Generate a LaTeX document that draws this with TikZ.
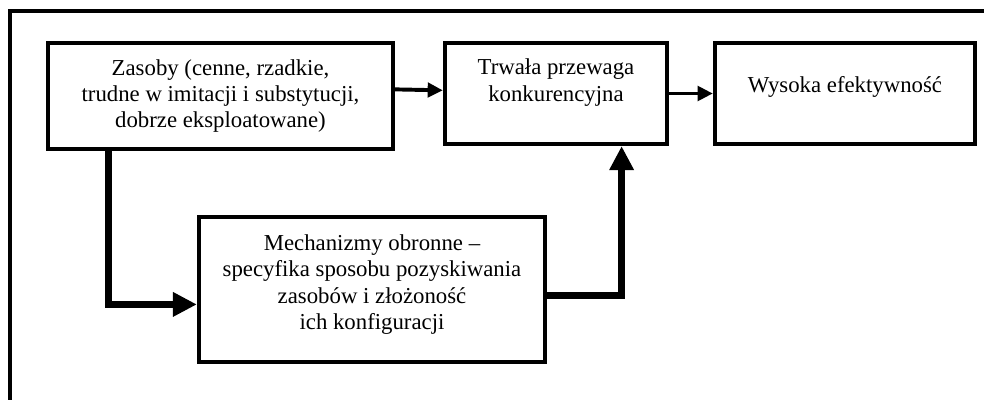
\documentclass[tikz,border=0pt]{standalone}
\usepackage{fontspec}
\setmainfont{Liberation Serif}
\usepackage{tikz}
\usetikzlibrary{arrows.meta, positioning, calc}
\tikzset{
  flowarrow/.style={-{Triangle[length=0.38cm, width=0.36cm]}, line width=2.8pt, black},
  flowarrow_thick/.style={-{Triangle[length=0.6cm, width=0.58cm]}, line width=5.2pt, black}
}

\begin{document}
\begin{tikzpicture}[
    x=0.025cm, y=-0.025cm,
    blockbox/.style={rectangle, draw=black, line width=3pt, fill=white, font=\fontsize{16.2}{18.8}\selectfont, align=center}
]
    \useasboundingbox (0,0) rectangle (984,400);
    % Outer frame, cut at right and bottom
    \draw[line width=2.9pt] (10,400) -- (10,11) -- (984,11);

    % Top row of boxes
    \node[blockbox, minimum width=8.625cm, minimum height=2.65cm] (zasoby) at (220.5, 96) {Zasoby (cenne, rzadkie,\\trudne w imitacji i substytucji,\\dobrze eksploatowane)};
    \node[blockbox, minimum width=5.55cm, minimum height=2.525cm] (trwala) at (556, 93.5) {Trwała przewaga\\konkurencyjna\\\mbox{}};
    \node[blockbox, minimum width=6.5cm, minimum height=2.525cm, text height=0.4cm, text depth=0.44cm] (wysoka) at (845, 93.5) {Wysoka efektywność};

    % Bottom box
    \node[blockbox, minimum width=8.65cm, minimum height=3.625cm] (mech) at (372, 289.5) {Mechanizmy obronne --\\specyfika sposobu pozyskiwania\\zasobów i złożoność\\ich konfiguracji\\[-8pt]\mbox{}};

    % Arrows along the top row
    \draw[flowarrow] ($(zasoby.south east)!0.56!(zasoby.north east)$) -- ($(trwala.south west)!0.53!(trwala.north west)$);
    \draw[flowarrow] (trwala) -- (wysoka);

    % Thick arrows through the defence mechanisms
    \draw[flowarrow_thick] ($(zasoby.south west)!0.18!(zasoby.south east)$) |- ($(mech.south west)!0.4!(mech.north west)$);
    \draw[flowarrow_thick] ($(mech.south east)!0.46!(mech.north east)$) -| ($(trwala.south west)!0.79!(trwala.south east)$);
\end{tikzpicture}
\end{document}
